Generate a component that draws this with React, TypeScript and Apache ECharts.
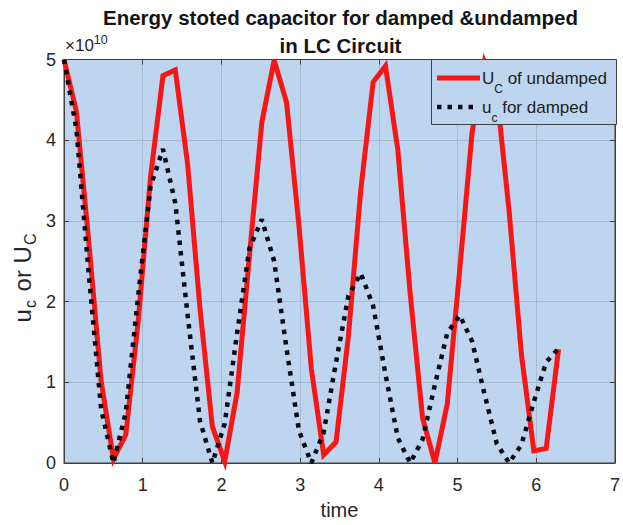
import React, { useEffect, useRef } from 'react';
import * as echarts from 'echarts';

// ---------- data (energy values in units of 10^10) ----------
const TITLE_LINES = ['Energy stoted capacitor for damped &undamped', 'in LC Circuit'];
const X_LABEL = 'time';
const X_TICKS = [0, 1, 2, 3, 4, 5, 6, 7];
const Y_TICKS = [0, 1, 2, 3, 4, 5];
const Y_EXPONENT = '10';

const TIME = [
  0, 0.157, 0.314, 0.471, 0.628, 0.785, 0.942, 1.1, 1.257, 1.414,
  1.571, 1.728, 1.885, 2.042, 2.199, 2.356, 2.513, 2.67, 2.827, 2.985,
  3.142, 3.299, 3.456, 3.613, 3.77, 3.927, 4.084, 4.241, 4.398, 4.555,
  4.712, 4.869, 5.027, 5.184, 5.341, 5.498, 5.655, 5.812, 5.969, 6.126,
  6.283,
];

const UNDAMPED = [
  5.0, 4.36, 2.75, 1.02, 0.05, 0.35, 1.75, 3.55, 4.8, 4.87,
  3.7, 1.91, 0.45, 0.02, 0.87, 2.57, 4.22, 4.99, 4.47, 2.94,
  1.17, 0.1, 0.26, 1.57, 3.38, 4.72, 4.92, 3.88, 2.1, 0.56,
  0.0, 0.73, 2.39, 4.09, 4.97, 4.58, 3.12, 1.34, 0.15, 0.18,
  1.41,
];

const DAMPED = [
  5.0, 4.14, 2.35, 0.67, 0.0, 0.63, 2.07, 3.43, 3.89, 3.22,
  1.83, 0.52, 0.0, 0.49, 1.61, 2.66, 3.02, 2.5, 1.42, 0.4,
  0.0, 0.38, 1.25, 2.07, 2.35, 1.95, 1.1, 0.31, 0.0, 0.29,
  0.97, 1.61, 1.83, 1.51, 0.86, 0.24, 0.0, 0.23, 0.76, 1.25,
  1.42,
];

const UNDAMPED_NAME = 'U_C of undamped';
const DAMPED_NAME = 'u_c for damped';

// ---------- style ----------
const FONT = '"Liberation Sans", Arial, Helvetica, sans-serif';
const PLOT_BG = '#bdd5ef';
const AXIS_COLOR = '#404040';
const GRID_COLOR = '#a6bad0';
const TEXT_COLOR = '#262626';
const RED = '#f71616';
const DOT = '#0b0b16';

const PLOT = { left: 64, right: 617, top: 59.5, bottom: 467 };

export default function App() {
  const ref = useRef<HTMLDivElement>(null);

  useEffect(() => {
    if (!ref.current) return;
    const chart = echarts.init(ref.current, undefined, { renderer: 'svg' });

    const tickFmt = (ticks: number[]) => (v: number) =>
      ticks.includes(v) ? String(v) : '';

    const baseAxis = {
      type: 'value' as const,
      axisLine: { show: true, onZero: false, lineStyle: { color: AXIS_COLOR, width: 1 } },
      axisTick: { show: true, inside: true, length: 5, lineStyle: { color: AXIS_COLOR, width: 1 } },
    };

    const legendText = (main1: string, sub: string, main2: string) =>
      `{m|${main1}}{s|${sub}}{m|${main2}}`;

    const legendRich = {
      m: { fontSize: 17, fontFamily: FONT, fill: '#222', verticalAlign: 'top' },
      s: { fontSize: 12, fontFamily: FONT, fill: '#222', verticalAlign: 'top', padding: [13, 0, 0, 0] },
    };

    const option: any = {
      animation: false,
      backgroundColor: '#ffffff',
      grid: {
        left: PLOT.left,
        right: 623 - PLOT.right,
        top: PLOT.top,
        bottom: 525 - PLOT.bottom,
        show: true,
        backgroundColor: PLOT_BG,
        borderColor: AXIS_COLOR,
        borderWidth: 1,
      },
      xAxis: [
        {
          ...baseAxis,
          min: X_TICKS[0],
          max: X_TICKS[X_TICKS.length - 1],
          interval: 1,
          position: 'bottom',
          axisLabel: {
            margin: 13,
            fontSize: 18,
            color: TEXT_COLOR,
            fontFamily: FONT,
            formatter: tickFmt(X_TICKS),
          },
          splitLine: { show: true, lineStyle: { color: GRID_COLOR, width: 1 } },
          name: X_LABEL,
          nameLocation: 'middle',
          nameGap: 37,
          nameTextStyle: { fontSize: 20, color: TEXT_COLOR, fontFamily: FONT },
        },
        {
          ...baseAxis,
          min: X_TICKS[0],
          max: X_TICKS[X_TICKS.length - 1],
          interval: 1,
          position: 'top',
          axisLabel: { show: false },
          splitLine: { show: false },
        },
      ],
      yAxis: [
        {
          ...baseAxis,
          min: Y_TICKS[0],
          max: Y_TICKS[Y_TICKS.length - 1],
          interval: 1,
          position: 'left',
          axisLabel: {
            margin: 8,
            fontSize: 18,
            color: TEXT_COLOR,
            fontFamily: FONT,
            formatter: tickFmt(Y_TICKS),
          },
          splitLine: { show: true, lineStyle: { color: GRID_COLOR, width: 1 } },
        },
        {
          ...baseAxis,
          min: Y_TICKS[0],
          max: Y_TICKS[Y_TICKS.length - 1],
          interval: 1,
          position: 'right',
          axisLabel: { show: false },
          splitLine: { show: false },
        },
      ],
      series: [
        {
          name: UNDAMPED_NAME,
          type: 'line',
          xAxisIndex: 0,
          yAxisIndex: 0,
          data: TIME.map((t, i) => [t, UNDAMPED[i]]),
          symbol: 'none',
          showSymbol: false,
          clip: false,
          z: 3,
          lineStyle: { color: RED, width: 5, join: 'miter' },
        },
        {
          name: DAMPED_NAME,
          type: 'line',
          xAxisIndex: 0,
          yAxisIndex: 0,
          data: TIME.map((t, i) => [t, DAMPED[i]]),
          symbol: 'none',
          showSymbol: false,
          clip: false,
          z: 4,
          lineStyle: { color: DOT, width: 4.5, type: [4.5, 6], cap: 'butt' },
        },
      ],
      graphic: [
        // title
        {
          type: 'text',
          x: 340.5,
          y: 3,
          z: 10,
          style: {
            text: TITLE_LINES.join('\n'),
            font: `bold 20.5px ${FONT}`,
            fill: '#141414',
            align: 'center',
            verticalAlign: 'top',
            lineHeight: 28.5,
          },
        },
        // exponent label
        {
          type: 'text',
          x: 65,
          y: 33,
          z: 10,
          style: {
            text: `{b|×10}{s|${Y_EXPONENT}}`,
            align: 'left',
            verticalAlign: 'top',
            rich: {
              b: { fontSize: 17, fontFamily: FONT, fill: TEXT_COLOR, verticalAlign: 'top', padding: [4, 0, 0, 0] },
              s: { fontSize: 12.5, fontFamily: FONT, fill: TEXT_COLOR, verticalAlign: 'top' },
            },
          },
        },
        // y axis label
        {
          type: 'text',
          x: 24,
          y: 277,
          rotation: Math.PI / 2,
          z: 10,
          style: {
            text: '{m|u}{s|c}{m| or U}{s|C}',
            align: 'center',
            verticalAlign: 'middle',
            rich: {
              m: { fontSize: 24, fontFamily: FONT, fill: TEXT_COLOR, verticalAlign: 'top' },
              s: { fontSize: 16, fontFamily: FONT, fill: TEXT_COLOR, verticalAlign: 'top', padding: [12, 2, 0, 1] },
            },
          },
        },
        // legend box
        {
          type: 'rect',
          z: 20,
          shape: { x: 431.5, y: 59.5, width: 185, height: 65 },
          style: { fill: PLOT_BG, stroke: AXIS_COLOR, lineWidth: 1 },
        },
        {
          type: 'line',
          z: 21,
          shape: { x1: 437, y1: 78, x2: 480, y2: 78 },
          style: { stroke: RED, lineWidth: 5 },
        },
        {
          type: 'text',
          x: 482,
          y: 69.5,
          z: 21,
          style: {
            text: legendText('U', 'C', ' of undamped'),
            align: 'left',
            verticalAlign: 'top',
            rich: legendRich,
          },
        },
        {
          type: 'line',
          z: 21,
          shape: { x1: 437, y1: 107, x2: 477, y2: 107 },
          style: { stroke: DOT, lineWidth: 4.5, lineDash: [4.5, 6], lineCap: 'butt' },
        },
        {
          type: 'text',
          x: 482,
          y: 98.5,
          z: 21,
          style: {
            text: legendText('u', 'c', ' for damped'),
            align: 'left',
            verticalAlign: 'top',
            rich: legendRich,
          },
        },
      ],
    };

    chart.setOption(option);
    return () => chart.dispose();
  }, []);

  return (
    <div
      ref={ref}
      style={{ position: 'fixed', left: 0, top: 0, width: 623, height: 525, background: '#fff' }}
    />
  );
}
